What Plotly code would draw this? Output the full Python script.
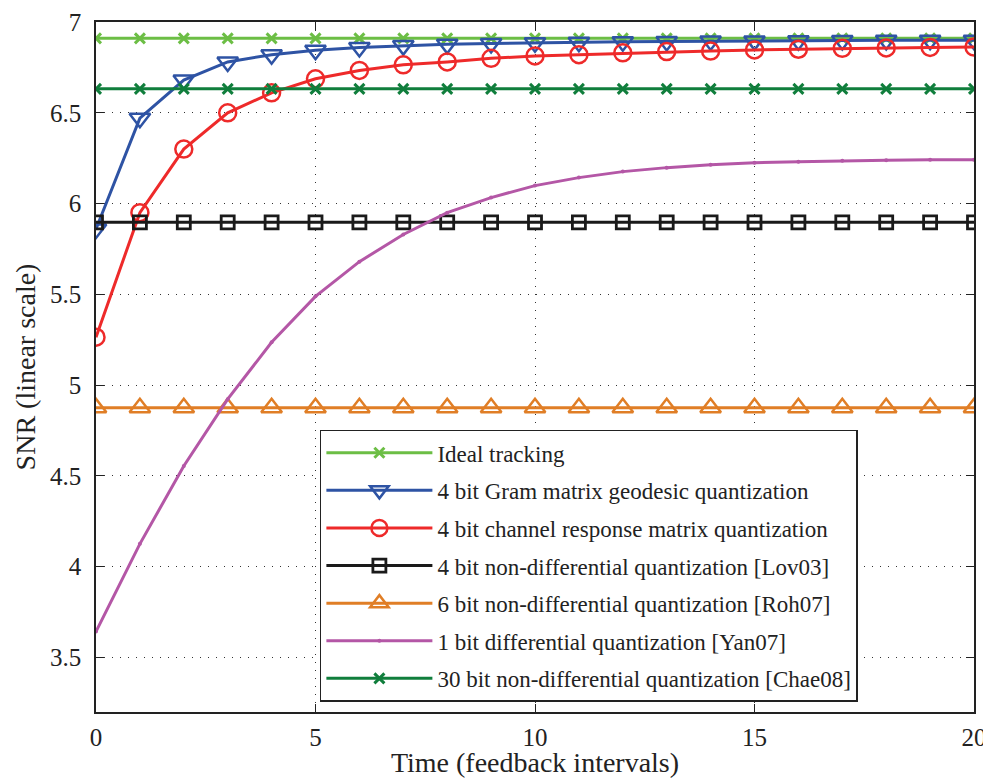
import plotly.graph_objects as go

t = list(range(21))

ideal = [6.91] * 21
gram = [5.86, 6.47, 6.68, 6.78, 6.82, 6.845, 6.86, 6.87, 6.877, 6.882, 6.886,
        6.889, 6.891, 6.893, 6.895, 6.896, 6.897, 6.898, 6.899, 6.9, 6.9]
chan = [5.264, 5.95, 6.30, 6.50, 6.61, 6.687, 6.733, 6.764, 6.78, 6.80, 6.813,
        6.82, 6.83, 6.837, 6.84, 6.846, 6.85, 6.855, 6.857, 6.86, 6.862]
lov03 = [5.897] * 21
roh07 = [4.875] * 21
yan07 = [3.643, 4.126, 4.555, 4.923, 5.236, 5.489, 5.68, 5.83, 5.95, 6.033, 6.099,
         6.143, 6.176, 6.198, 6.214, 6.225, 6.23, 6.236, 6.238, 6.241, 6.242]
chae08 = [6.632] * 21

names = [
    "Ideal tracking",
    "4 bit Gram matrix geodesic quantization",
    "4 bit channel response matrix quantization",
    "4 bit non-differential quantization [Lov03]",
    "6 bit non-differential quantization [Roh07]",
    "1 bit differential quantization [Yan07]",
    "30 bit non-differential quantization [Chae08]",
]

styles = [
    (ideal, "#6CBE45", "x-thin", 10, 3),
    (gram, "#2E53A4", "triangle-down-open", 18, 2.5),
    (chan, "#EE2A2A", "circle-open", 17, 2.5),
    (lov03, "#1A1A1A", "square-open", 13, 2.8),
    (roh07, "#E07E26", "triangle-up-open", 18, 2.5),
    (yan07, "#B457A6", "circle", 4, 0),
    (chae08, "#107E3C", "x-thin", 10, 3),
]

fig = go.Figure()
for i, (name, (y, col, sym, sz, lw)) in enumerate(zip(names, styles)):
    mk = dict(symbol=sym, size=sz, color=col, line=dict(color=col, width=lw))
    fig.add_trace(go.Scatter(
        x=t, y=y, mode="lines+markers", name=name, legendgroup=f"g{i}",
        line=dict(color=col, width=3), marker=mk,
    ))

font = "Liberation Serif, Times New Roman, serif"
axis_common = dict(
    showline=True, linecolor="#222", linewidth=1.5, mirror="ticks",
    ticks="inside", ticklen=8, tickcolor="#222", tickwidth=1,
    showgrid=True, gridcolor="#333", griddash="1px,7px", gridwidth=1,
    zeroline=False, tickfont=dict(family=font, size=25, color="#222"),
    automargin=False, ticklabeloverflow="allow",
)

fig.update_layout(
    width=983, height=778,
    margin=dict(l=96, r=9, t=22, b=66),
    plot_bgcolor="white", paper_bgcolor="white",
    font=dict(family=font, color="#222"),
    xaxis=dict(range=[0, 20], tickvals=[0, 5, 10, 15, 20],
               ticklabelstandoff=2,
               title=dict(text="Time (feedback intervals)", font=dict(family=font, size=28), standoff=6),
               **axis_common),
    yaxis=dict(range=[3.2, 7], tickvals=[3.5, 4, 4.5, 5, 5.5, 6, 6.5, 7],
               ticktext=["3.5", "4", "4.5", "5", "5.5", "6", "6.5", "7"],
               ticklabelstandoff=8,
               title=dict(text="SNR (linear scale)", font=dict(family=font, size=28), standoff=6),
               **axis_common),
    legend=dict(
        x=0.255, y=0.409, xanchor="left", yanchor="top",
        bgcolor="white", bordercolor="#222", borderwidth=1.5,
        font=dict(family=font, size=23, color="#222"),
        tracegroupgap=4.7, traceorder="grouped", itemwidth=106,
    ),
    showlegend=True,
)

fig.write_html("out.html")
